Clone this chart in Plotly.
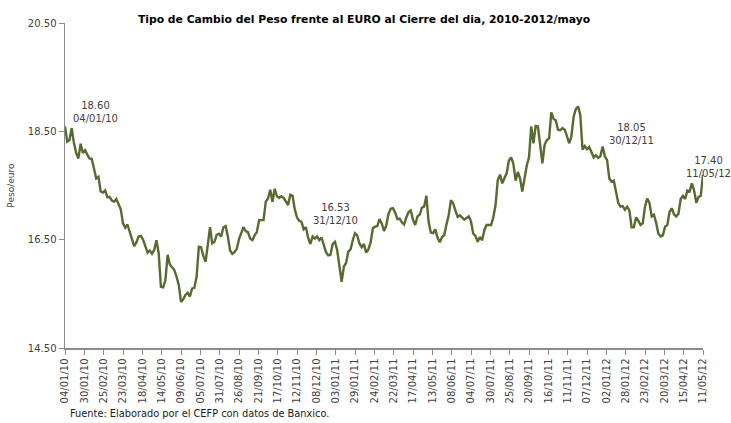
import pandas as pd
import plotly.graph_objects as go

# Sampled every 3 days from 04/01/2010 to 11/05/2012 (pesos per euro)
start_date = "2010-01-04"
step_days = 3
values = [
    18.59, 18.31, 18.34, 18.56, 18.29, 18.10, 18.00, 18.27, 18.10, 18.15,
    18.07, 18.00, 17.99, 17.79, 17.63, 17.66, 17.39, 17.37, 17.41, 17.28,
    17.29, 17.22, 17.20, 17.25, 17.16, 17.06, 16.80, 16.72, 16.78, 16.63,
    16.51, 16.38, 16.45, 16.56, 16.57, 16.50, 16.38, 16.26, 16.30, 16.24,
    16.31, 16.49, 16.25, 15.63, 15.62, 15.75, 16.22, 16.04, 15.99, 15.94,
    15.82, 15.66,
    15.35, 15.40, 15.48, 15.52, 15.45, 15.60, 15.61, 15.82, 16.37, 16.36,
    16.20, 16.09, 16.40, 16.73, 16.43, 16.46, 16.59, 16.61, 16.56, 16.73,
    16.75, 16.56, 16.30, 16.24, 16.27, 16.33, 16.51, 16.61, 16.73, 16.66,
    16.64, 16.52, 16.49, 16.58, 16.64, 16.86, 16.86, 16.86, 17.20, 17.26,
    17.42, 17.20, 17.44, 17.30, 17.27, 17.30, 17.27, 17.20, 17.14,
    17.33, 17.31, 17.06, 16.91, 16.85, 16.83, 16.69, 16.73, 16.53, 16.42,
    16.56, 16.52, 16.56, 16.49, 16.54, 16.41, 16.27, 16.21, 16.22, 16.42,
    16.46, 16.31, 15.97, 15.72, 16.00, 16.07, 16.28, 16.32, 16.49, 16.62,
    16.58, 16.43, 16.36, 16.42, 16.26, 16.32, 16.45, 16.71, 16.74, 16.75,
    16.88, 16.80, 16.66, 16.76, 16.97, 17.07, 17.08, 17.00, 16.88, 16.89,
    16.82, 16.78, 16.91, 17.01, 17.04, 16.87, 16.77, 16.93, 16.96, 17.09,
    17.11, 17.31, 16.83, 16.63, 16.62, 16.69, 16.54, 16.45, 16.55, 16.58,
    16.78, 16.95, 17.23, 17.17, 17.04, 16.92, 16.95, 16.90, 16.87, 16.90,
    16.93, 16.84, 16.61, 16.57, 16.46, 16.55, 16.49, 16.68, 16.77, 16.77,
    16.77, 16.91, 17.14, 17.60, 17.70, 17.54, 17.65, 17.73, 17.96,
    18.02, 17.90, 17.59, 17.75, 17.63, 17.39, 17.62, 17.87, 18.02, 18.59,
    18.28, 18.60, 18.59, 18.28, 17.91, 18.25, 18.34, 18.37, 18.85, 18.73,
    18.70, 18.53, 18.52, 18.56, 18.53, 18.41, 18.28, 18.40, 18.77, 18.91,
    18.96, 18.80, 18.16, 18.23, 18.17, 18.21, 18.12, 18.02, 18.06, 18.01,
    18.04, 18.22, 18.04, 17.97, 17.63,
    17.57, 17.59, 17.37, 17.18, 17.11, 17.12, 17.05, 17.11, 17.04, 16.73,
    16.73, 16.91, 16.85, 16.77, 16.80, 17.11, 17.26, 17.18, 16.93, 16.96,
    16.81, 16.61, 16.56, 16.58, 16.74, 16.77, 17.01, 17.08, 16.97, 16.93,
    16.98, 17.25, 17.31, 17.25, 17.41, 17.39, 17.54, 17.41, 17.18, 17.29,
    17.31, 17.70,
]

# Highlighted labels
label_dates = ["2010-01-04", "2010-12-31", "2011-12-30", "2012-05-11"]
label_values = [18.60, 16.53, 18.05, 17.40]
label_text_dates = ["04/01/10", "31/12/10", "30/12/11", "11/05/12"]

tick_step_days = 26
end_date = "2012-05-11"

dates = pd.date_range(start_date, periods=len(values), freq=f"{step_days}D")
tick_dates = pd.date_range(start_date, end_date, freq=f"{tick_step_days}D")
tick_text = [d.strftime("%d/%m/%y") for d in tick_dates]

FONT = "DejaVu Sans"
TXT = "#404040"
AX = "#8c8c8c"

fig = go.Figure()
fig.add_trace(go.Scatter(
    x=dates, y=values, mode="lines",
    line=dict(color="#566b2f", width=2.4),
    hoverinfo="skip", showlegend=False,
))

shifts = [(30, 14), (2, 24), (27, 22), (5, 24)]
for d, v, t, (xs, ys) in zip(label_dates, label_values, label_text_dates, shifts):
    fig.add_annotation(
        x=d, y=v, xref="x", yref="y",
        text=f"{v:.2f}<br>{t}", showarrow=False,
        xshift=xs, yshift=ys, xanchor="center", yanchor="middle",
        font=dict(family=FONT, size=10, color=TXT), align="center",
    )

fig.add_annotation(
    xref="paper", yref="paper", x=0.005, y=-0.2, xanchor="left", yanchor="middle",
    text="Fuente: Elaborado por el CEFP con datos de Banxico.", showarrow=False,
    font=dict(family=FONT, size=9.8, color="#202020"),
)
fig.add_annotation(
    xref="paper", yref="paper", x=-0.086, y=0.5, xanchor="center", yanchor="middle",
    text="Peso/euro", textangle=-90, showarrow=False,
    font=dict(family=FONT, size=9, color=TXT),
)

fig.update_layout(
    width=731, height=423,
    margin=dict(l=65, r=28, t=23, b=75, autoexpand=False),
    paper_bgcolor="white", plot_bgcolor="white",
    title=dict(
        text="<b>Tipo de Cambio del Peso frente al EURO al Cierre del dia, 2010-2012/mayo</b>",
        x=0.498, y=0.955, xanchor="center", yanchor="middle",
        font=dict(family=FONT, size=10.8, color="#000000"),
    ),
    xaxis=dict(
        type="date", range=[dates[0], dates[-1]], automargin=False,
        tickmode="array", tickvals=tick_dates, ticktext=tick_text,
        tickangle=-90, tickfont=dict(family=FONT, size=10, color=TXT),
        showgrid=False, zeroline=False,
        showline=True, linecolor=AX, linewidth=1.5,
        ticks="outside", ticklen=5, tickcolor=AX, tickwidth=1,
    ),
    yaxis=dict(
        range=[14.5, 20.5], tickmode="linear", tick0=14.5, dtick=2, automargin=False,
        tickformat=".2f", tickfont=dict(family=FONT, size=10, color=TXT),
        showgrid=False, zeroline=False,
        showline=True, linecolor=AX, linewidth=1.5,
        ticks="outside", ticklen=5, tickcolor=AX, tickwidth=1,
    ),
)

fig.write_html(
    "out.html",
    config={"displayModeBar": False, "staticPlot": True},
    post_script="document.body.style.margin='0';",
)
